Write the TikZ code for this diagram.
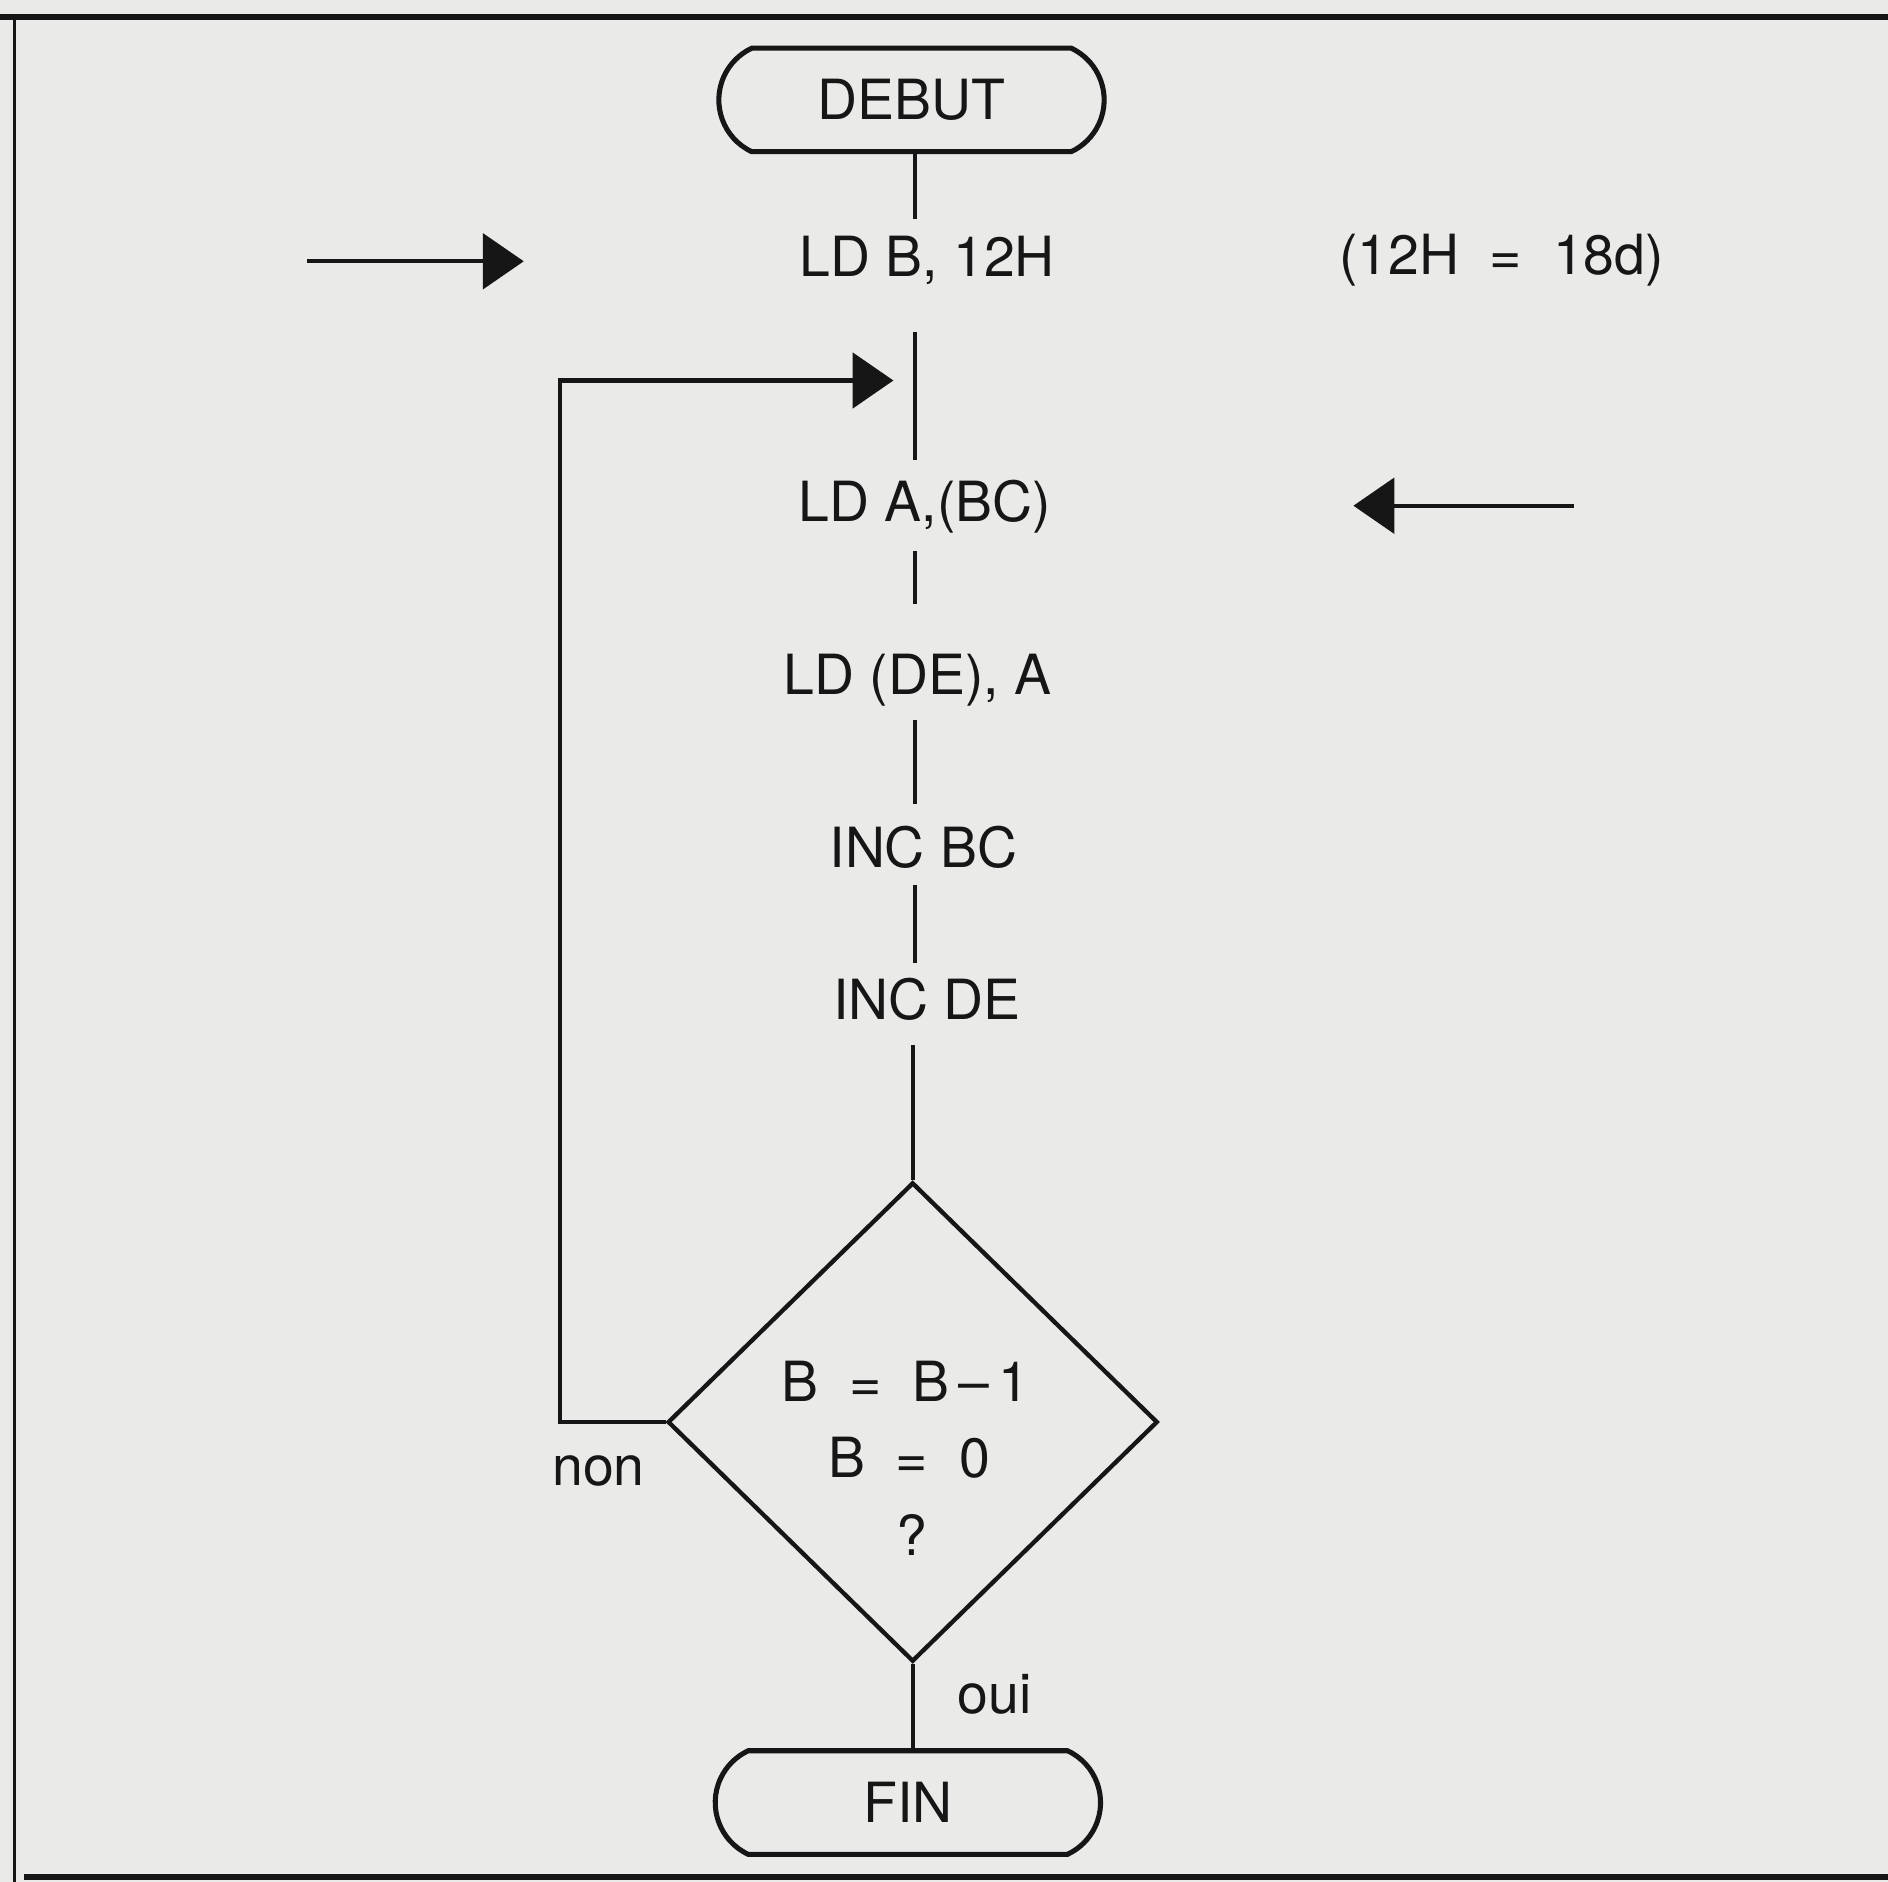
\documentclass[tikz,border=0pt]{standalone}
\usepackage{fontspec}
\setmainfont{TeX Gyre Heros}
\usetikzlibrary{shapes.misc,shapes.geometric,arrows.meta,calc}
\definecolor{paper}{RGB}{234,234,232}
\definecolor{ink}{RGB}{22,22,22}
\begin{document}
\begin{tikzpicture}[x=1pt,y=-1pt,
  line/.style={draw=ink,line width=3.6pt},
  term/.style={draw=ink,rounded rectangle,rounded rectangle arc length=130,
    minimum width=320pt,minimum height=86pt,line width=4.2pt,inner sep=0pt,
    font=\fontsize{46}{54}\selectfont,text=ink},
  txt/.style={font=\fontsize{46}{54}\selectfont,inner sep=0pt,text=ink},
  arr/.style={-{Triangle[length=34pt,width=46pt]}},
  decision/.style={draw=ink,diamond,minimum width=407pt,minimum height=398pt,
    inner sep=0pt,line width=3.6pt}]
\fill[paper] (0,0) rectangle (1568,1563);
\useasboundingbox (0,0) rectangle (1568,1563);
% frame
\draw[ink,line width=5pt] (0,14) -- (1568,14);
\draw[ink,line width=2.8pt] (12,14) -- (12,1563);
\draw[ink,line width=4.5pt] (20,1559) -- (1568,1559);
% nodes
\coordinate (spine) at (760,0);
\node[term] (debut) at (757,83) {DEBUT};
\node[txt] (ldb) at (770,216) {LD B, 12H};
\node[txt] (note) at (1247,216) {(12H\ \ =\ \ 18d)};
\node[txt] (lda) at (768,421) {LD A,(BC)};
\node[txt] (ldde) at (762,565) {LD (DE), A};
\node[txt] (incbc) at (767,704) {INC BC};
\node[txt] (incde) at (770,830) {INC DE};
\node[decision] (dec) at (758,1181) {};
\node[txt] (d1) at (752,1147) {B\ \ =\ \ B\,–\,1};
\node[txt] (d2) at (755,1211) {B\ \ =\ \ 0};
\node[txt] (d3) at (757,1275) {?};
\node[txt] (non) at (497,1222) {non};
\node[txt] (oui) at (826,1407) {oui};
\node[term] (fin) at (754,1497) {FIN};
% side arrows
\coordinate (inA) at (255,217);
\coordinate (inAtip) at (435,217);
\coordinate (inB) at (1307,420);
\coordinate (inBtip) at (1124,420);
\draw[line,arr] (inA) -- (inAtip);
\draw[line,arr] (inB) -- (inBtip);
% spine connectors
\draw[line] (debut.south -| spine) -- ++(0,54);
\draw[line] ($(ldb.center -| spine)+(0,60)$) -- ($(lda.center -| spine)+(0,-39)$);
\draw[line] ($(lda.center -| spine)+(0,37)$) -- ($(ldde.center -| spine)+(0,-63)$);
\draw[line] ($(ldde.center -| spine)+(0,33)$) -- ($(incbc.center -| spine)+(0,-36)$);
\draw[line] ($(incbc.center -| spine)+(0,31)$) -- ($(incde.center -| spine)+(0,-30)$);
\draw[line] ($(incde.center -| dec.north)+(0,38)$) -- (dec.north);
% loop back
\coordinate (looptop) at (465,316);
\coordinate (looptip) at (742,316);
\draw[line,arr] (dec.west) -| (looptop) -- (looptip);
% exit
\draw[line] (dec.south) -- (dec.south |- fin.north);
\end{tikzpicture}
\end{document}
